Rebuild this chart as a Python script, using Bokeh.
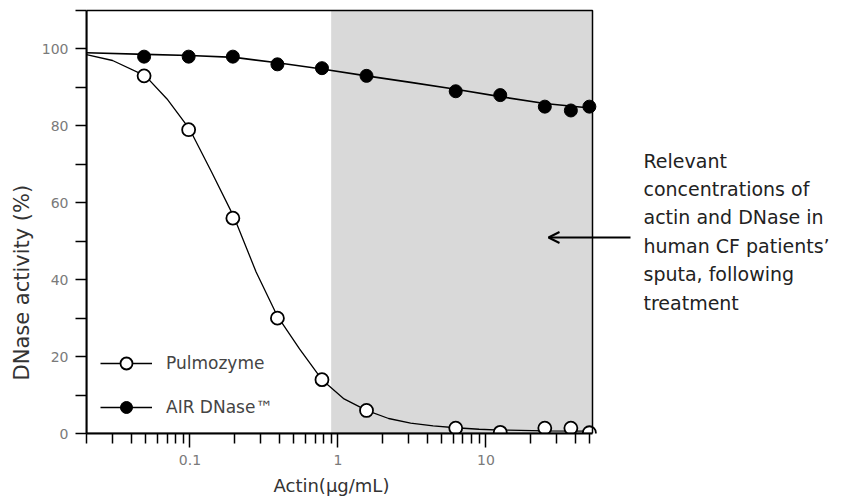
import math
from bokeh.plotting import figure
from bokeh.models import (BoxAnnotation, FixedTicker, Legend, LegendItem, Label, Title,
                          Arrow, OpenHead, CustomJSTickFormatter, Range1d)
from bokeh.embed import file_html
from bokeh.resources import INLINE

# ---- data ----
actin = [0.049, 0.098, 0.195, 0.39, 0.78, 1.56, 6.25, 12.5, 25, 37.5, 50]
pulmozyme = [93, 79, 56, 30, 14, 6, 1.4, 0.3, 1.4, 1.4, 0.2]
air_dnase = [98, 98, 98, 96, 95, 93, 89, 88, 85, 84, 85]

# fitted curves
pulmo_fit_x = [0.02, 0.03, 0.05, 0.07, 0.1, 0.14, 0.2, 0.28, 0.39, 0.55, 0.78,
               1.1, 1.56, 2.2, 3.1, 4.4, 6.25, 9, 12.5, 25, 52.5]
pulmo_fit_y = [98.5, 97, 93, 87, 79, 68, 56, 42, 30.5, 22, 14,
               9, 6, 3.9, 2.7, 2, 1.5, 1.1, 0.9, 0.7, 0.6]
air_fit_x = [0.02, 0.05, 0.1, 0.2, 0.39, 0.78, 1.56, 3.1, 6.25, 12.5, 25, 52.5]
air_fit_y = [99, 98.6, 98.3, 97.8, 96.4, 94.8, 93, 91.3, 89.5, 87.6, 85.8, 84.6]

shaded_from = 0.9
x_limits = (0.02, 52.5)
y_limits = (0, 110)
x_major = [0.1, 1, 10]
y_major = [0, 20, 40, 60, 80, 100]
y_minor = [10, 30, 50, 70, 90, 110]

x_title = "Actin(\u00b5g/mL)"
y_title = "DNase  activity (%)"
legend_labels = ["Pulmozyme", "AIR DNase\u2122"]
note_lines = ["Relevant", "concentrations of", "actin and  DNase in",
              "human CF patients\u2019", "sputa,  following", "treatment"]

# ---- layout (pixels) ----
W, H = 846, 501
left_border, top_border = 86, 8
plot_w, frame_h = 506, 425
frame_w = W - left_border
px_per_decade = plot_w / math.log10(x_limits[1] / x_limits[0])
x_view_right = 10 ** (math.log10(x_limits[0]) + frame_w / px_per_decade)
y_view_top = y_limits[1] * frame_h / 423.0

p = figure(frame_width=frame_w, frame_height=frame_h,
           min_border_left=left_border, min_border_right=0, min_border_top=top_border,
           min_border_bottom=H - top_border - frame_h,
           x_axis_type="log", x_range=Range1d(x_limits[0], x_view_right),
           y_range=Range1d(y_limits[0], y_view_top),
           output_backend="svg", toolbar_location=None)
p.grid.visible = False
p.outline_line_alpha = 0
p.background_fill_color = "white"
p.border_fill_color = "white"

# shaded region and plot-area frame
p.add_layout(BoxAnnotation(left=shaded_from, right=x_limits[1], bottom=y_limits[0],
                           top=y_limits[1], fill_color="#d9d9d9", fill_alpha=1,
                           line_alpha=0, level="underlay"))
p.add_layout(BoxAnnotation(left=x_limits[0], right=x_limits[1], bottom=y_limits[0],
                           top=y_limits[1], fill_alpha=0, line_color="black",
                           line_alpha=1, line_width=1.5, level="overlay"))

pl = p.line(pulmo_fit_x, pulmo_fit_y, line_color="black", line_width=1.3)
al = p.line(air_fit_x, air_fit_y, line_color="black", line_width=1.6)
ps = p.scatter(actin, pulmozyme, marker="circle", size=13, fill_color="white",
               line_color="black", line_width=1.8)
as_ = p.scatter(actin, air_dnase, marker="circle", size=13, fill_color="black",
                line_color="black", line_width=1)

# axes
minor_x = []
for dec in [0.01, 0.1, 1, 10]:
    for k in range(2, 10):
        v = round(dec * k, 4)
        if x_limits[0] <= v <= x_limits[1]:
            minor_x.append(v)
p.xaxis.ticker = FixedTicker(ticks=x_major, minor_ticks=minor_x)
p.xaxis.formatter = CustomJSTickFormatter(code="return tick.toString();")
p.yaxis.ticker = FixedTicker(ticks=y_major, minor_ticks=y_minor)
p.xaxis.bounds = x_limits
p.yaxis.bounds = y_limits

for ax in (p.xaxis[0], p.yaxis[0]):
    ax.axis_line_width = 2
    ax.axis_line_color = "black"
    ax.major_tick_line_width = 1.5
    ax.minor_tick_line_width = 1.5
    ax.major_tick_line_color = "black"
    ax.minor_tick_line_color = "black"
    ax.major_tick_in = 0
    ax.minor_tick_in = 0
    ax.major_label_text_font = "DejaVu Sans"
    ax.major_label_text_font_size = "14px"
    ax.major_label_text_color = "#7a7a7a"
    ax.major_label_standoff = 7

p.xaxis.major_tick_out = 14
p.xaxis.minor_tick_out = 10
p.yaxis.major_tick_out = 11
p.yaxis.minor_tick_out = 11

# axis titles placed along the axes like in the reference
p.add_layout(Title(text=y_title, align="left", offset=53, text_font="DejaVu Sans",
                   text_font_size="21px", text_font_style="normal",
                   text_color="#333333"), "left")
p.add_layout(Title(text=x_title, align="left", offset=187, text_font="DejaVu Sans",
                   text_font_size="18px", text_font_style="normal",
                   text_color="#333333"), "below")

legend = Legend(items=[LegendItem(label=legend_labels[0], renderers=[pl, ps]),
                       LegendItem(label=legend_labels[1], renderers=[al, as_])],
                location=(14, 11), glyph_width=52, glyph_height=30, spacing=14,
                label_standoff=14, padding=0, margin=0,
                border_line_alpha=0, background_fill_alpha=0,
                label_text_font="DejaVu Sans", label_text_font_size="17px",
                label_text_color="#444444")
p.add_layout(legend)

# annotation
for i, line in enumerate(note_lines):
    p.add_layout(Label(x=557, y=273 - i * 28.4, x_units="screen", y_units="screen",
                       text=line, text_font="DejaVu Sans", text_font_size="19px",
                       text_baseline="middle", text_color="#222222"))
p.add_layout(Arrow(end=OpenHead(size=11, line_width=2), x_start=544, y_start=196,
                   x_end=462, y_end=196, start_units="screen", end_units="screen",
                   line_width=2, line_color="black"))

open("out.html", "w").write(file_html(p, INLINE))
